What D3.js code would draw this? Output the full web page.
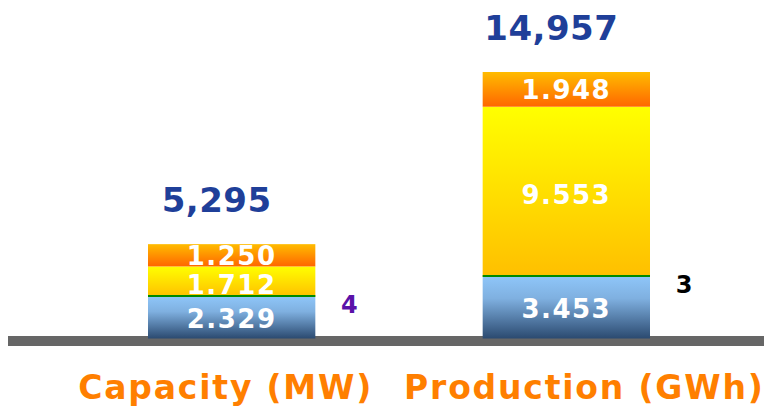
<!DOCTYPE html>
<html>
<head>
<meta charset="utf-8">
<script src="https://cdn.jsdelivr.net/npm/d3@7"></script>
<style>
  html, body { margin: 0; padding: 0; background: #fff; }
  svg { display: block; }
</style>
</head>
<body>
<svg id="chart" width="764" height="409"></svg>
<script>
// ---- data ----
const categories = ["Capacity (MW)", "Production (GWh)"];
const seriesNames = ["blue", "green", "yellow", "orange"];
const blueValues   = [2329, 3453];
const greenValues  = [4, 3];
const yellowValues = [1712, 9553];
const orangeValues = [1250, 1948];
const totals = [5295, 14957];

// ---- styles ----
const W = 764, H = 409;
const svg = d3.select("#chart");
const defs = svg.append("defs");

const gradients = {
  blue:   [["0%", "#8ec5f8"], ["35%", "#7fb0e0"], ["100%", "#2b4a70"]],
  yellow: [["0%", "#ffff00"], ["100%", "#ffbf00"]],
  orange: [["0%", "#ffbc00"], ["100%", "#ff6600"]]
};
Object.entries(gradients).forEach(([k, stops]) => {
  const g = defs.append("linearGradient").attr("id", "g-" + k)
    .attr("x1", 0).attr("y1", 0).attr("x2", 0).attr("y2", 1);
  stops.forEach(s => g.append("stop").attr("offset", s[0]).attr("stop-color", s[1]));
});
const fills = { blue: "url(#g-blue)", green: "#008a00", yellow: "url(#g-yellow)", orange: "url(#g-orange)" };
const labelNudge = { blue: 0, yellow: 2, orange: -1 };
const outsideColors = ["#5a12a8", "#000000"];
const fontFam = "DejaVu Sans, Verdana, sans-serif";

const segFmt = d3.formatLocale({ decimal: ",", thousands: ".", grouping: [3], currency: ["", ""] }).format(",");
const totFmt = d3.format(",");

// ---- scales ----
const x = d3.scaleBand().domain(categories).range([148, 650]).paddingInner(0.5).paddingOuter(0);
const y = d3.scaleLinear().domain([0, d3.max(totals)]).range([338.5, 72]);

// ---- stack ----
const rows = categories.map((c, i) => ({
  cat: c, blue: blueValues[i], green: greenValues[i], yellow: yellowValues[i], orange: orangeValues[i]
}));
const stack = d3.stack().keys(seriesNames)(rows);

// baseline bar
svg.append("rect")
  .attr("x", 8).attr("y", 336).attr("width", W - 8).attr("height", 10)
  .attr("fill", "#666666");

// segments (green drawn last so the thin line stays visible)
const drawOrder = ["blue", "yellow", "orange", "green"];
drawOrder.forEach(key => {
  const layer = stack.find(l => l.key === key);
  layer.forEach((d, i) => {
    const x0 = x(categories[i]);
    const bw = x.bandwidth();
    const top = y(d[1]), bot = y(d[0]);
    let hgt = bot - top, yy = top;
    if (key === "green") { hgt = Math.max(2, hgt); yy = Math.round(bot) - hgt; }
    svg.append("rect")
      .attr("x", x0).attr("y", yy).attr("width", bw).attr("height", hgt)
      .attr("fill", fills[key]);
  });
});

// segment labels
stack.forEach(layer => {
  const key = layer.key;
  layer.forEach((d, i) => {
    const cx = x(categories[i]) + x.bandwidth() / 2;
    if (key === "green") {
      svg.append("text")
        .attr("x", x(categories[i]) + x.bandwidth() + 34)
        .attr("y", y(d[0]) + 16)
        .attr("text-anchor", "middle")
        .attr("font-family", fontFam)
        .attr("font-weight", "bold")
        .attr("font-size", 24)
        .attr("fill", outsideColors[i])
        .text(d[1] - d[0]);
    } else {
      const cy = (y(d[0]) + y(d[1])) / 2;
      svg.append("text")
        .attr("x", cx)
        .attr("y", cy + 10.5 + labelNudge[key])
        .attr("text-anchor", "middle")
        .attr("font-family", fontFam)
        .attr("font-weight", "bold")
        .attr("font-size", 26)
        .attr("letter-spacing", 1.5)
        .attr("fill", "#ffffff")
        .text(segFmt(d[1] - d[0]));
    }
  });
});

// totals
totals.forEach((t, i) => {
  svg.append("text")
    .attr("x", x(categories[i]) + x.bandwidth() / 2 - 15)
    .attr("y", y(t) - 32)
    .attr("text-anchor", "middle")
    .attr("font-family", fontFam)
    .attr("font-weight", "bold")
    .attr("font-size", 34)
    .attr("letter-spacing", 0.5)
    .attr("fill", "#1f3f99")
    .text(totFmt(t));
});

// category labels
const catOffsets = [-6, 18];
categories.forEach((c, i) => {
  svg.append("text")
    .attr("x", x(c) + x.bandwidth() / 2 + catOffsets[i])
    .attr("y", 399)
    .attr("text-anchor", "middle")
    .attr("font-family", fontFam)
    .attr("font-weight", "bold")
    .attr("font-size", 33)
    .attr("letter-spacing", 1.8)
    .attr("fill", "#ff7f00")
    .text(c);
});
</script>
</body>
</html>
